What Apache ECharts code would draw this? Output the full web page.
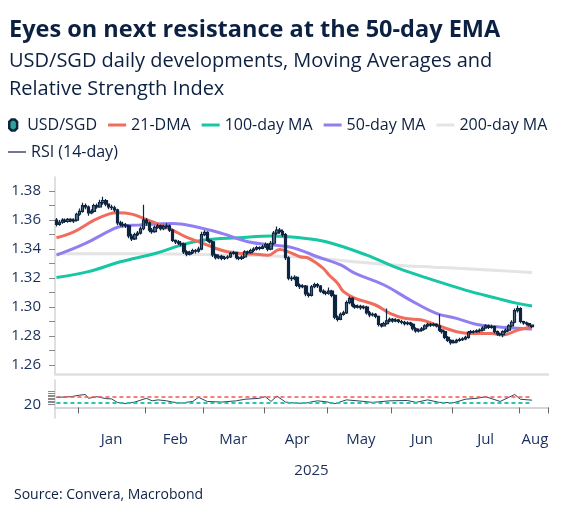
<!DOCTYPE html>
<html><head><meta charset="utf-8">
<script src="https://cdn.jsdelivr.net/npm/echarts@6/dist/echarts.min.js"></script>
<style>html,body{margin:0;padding:0;background:#fff}#c{width:566px;height:520px}</style>
</head><body><div id="c"></div>
<script>
// ---------- data ----------
const startDate = '2024-12-20';
const endDate = '2025-08-14';
const monthNames = ['Jan','Feb','Mar','Apr','May','Jun','Jul','Aug','Sep','Oct','Nov','Dec'];
const yearLabel = '2025';
const priceTicks = [1.26,1.27,1.28,1.29,1.30,1.31,1.32,1.33,1.34,1.35,1.36,1.37,1.38];
const priceLabels = [1.26,1.28,1.30,1.32,1.34,1.36,1.38];
const rsiTicks = [20,30,40,50,60,70,80,90,100];
const rsiLabels = [20];
const rsiUpper = 70;
const rsiLower = 30;

// USD/SGD daily candles: [open, close, low, high]
const usdsgd = [
[1.3600,1.3570,1.3555,1.3615],[1.3570,1.3585,1.3560,1.3600],[1.3585,1.3600,1.3575,1.3612],[1.3600,1.3590,1.3580,1.3610],
[1.3590,1.3605,1.3582,1.3615],[1.3605,1.3595,1.3585,1.3612],[1.3595,1.3600,1.3580,1.3612],[1.3600,1.3640,1.3590,1.3650],
[1.3640,1.3660,1.3630,1.3680],[1.3660,1.3700,1.3650,1.3720],[1.3700,1.3690,1.3675,1.3715],[1.3690,1.3650,1.3630,1.3700],
[1.3650,1.3660,1.3640,1.3675],[1.3660,1.3700,1.3650,1.3712],[1.3700,1.3690,1.3678,1.3715],[1.3690,1.3720,1.3685,1.3740],
[1.3720,1.3735,1.3705,1.3760],[1.3735,1.3710,1.3695,1.3745],[1.3710,1.3690,1.3675,1.3712],[1.3690,1.3685,1.3670,1.3705],
[1.3685,1.3670,1.3655,1.3698],[1.3670,1.3580,1.3565,1.3678],[1.3580,1.3570,1.3555,1.3595],[1.3570,1.3565,1.3550,1.3588],
[1.3565,1.3560,1.3545,1.3580],[1.3560,1.3490,1.3475,1.3568],[1.3490,1.3470,1.3455,1.3505],[1.3470,1.3500,1.3462,1.3512],
[1.3500,1.3510,1.3490,1.3525],[1.3510,1.3540,1.3500,1.3555],[1.3540,1.3600,1.3530,1.3705],[1.3600,1.3580,1.3560,1.3615],
[1.3580,1.3530,1.3515,1.3590],[1.3530,1.3520,1.3505,1.3545],[1.3520,1.3550,1.3512,1.3562],[1.3550,1.3560,1.3540,1.3575],
[1.3560,1.3540,1.3528,1.3570],[1.3540,1.3555,1.3530,1.3568],[1.3555,1.3560,1.3542,1.3578],[1.3560,1.3530,1.3518,1.3570],
[1.3530,1.3460,1.3448,1.3540],[1.3460,1.3450,1.3435,1.3465],[1.3450,1.3440,1.3428,1.3462],[1.3440,1.3435,1.3420,1.3455],
[1.3435,1.3380,1.3365,1.3445],[1.3380,1.3365,1.3350,1.3392],[1.3365,1.3375,1.3355,1.3388],[1.3375,1.3390,1.3365,1.3402],
[1.3390,1.3385,1.3370,1.3400],[1.3385,1.3400,1.3375,1.3415],[1.3400,1.3500,1.3392,1.3520],[1.3500,1.3515,1.3488,1.3530],
[1.3515,1.3460,1.3450,1.3522],[1.3460,1.3450,1.3438,1.3470],[1.3450,1.3360,1.3345,1.3458],[1.3360,1.3340,1.3328,1.3368],
[1.3340,1.3350,1.3330,1.3362],[1.3350,1.3335,1.3322,1.3360],[1.3335,1.3340,1.3325,1.3352],[1.3340,1.3345,1.3330,1.3358],
[1.3345,1.3370,1.3338,1.3382],[1.3370,1.3375,1.3360,1.3388],[1.3375,1.3340,1.3328,1.3382],[1.3340,1.3335,1.3322,1.3350],
[1.3335,1.3345,1.3325,1.3358],[1.3345,1.3380,1.3338,1.3392],[1.3380,1.3375,1.3362,1.3390],[1.3375,1.3390,1.3368,1.3402],
[1.3390,1.3400,1.3380,1.3412],[1.3400,1.3410,1.3390,1.3422],[1.3410,1.3405,1.3392,1.3420],[1.3405,1.3415,1.3398,1.3430],
[1.3415,1.3430,1.3408,1.3445],[1.3430,1.3400,1.3385,1.3440],[1.3400,1.3440,1.3392,1.3455],[1.3440,1.3510,1.3430,1.3525],
[1.3510,1.3530,1.3498,1.3555],[1.3530,1.3520,1.3505,1.3545],[1.3520,1.3500,1.3485,1.3535],[1.3500,1.3340,1.3325,1.3510],
[1.3340,1.3200,1.3185,1.3350],[1.3200,1.3195,1.3180,1.3215],[1.3195,1.3205,1.3185,1.3220],[1.3205,1.3150,1.3138,1.3212],
[1.3150,1.3140,1.3125,1.3162],[1.3140,1.3145,1.3130,1.3158],[1.3145,1.3090,1.3075,1.3152],[1.3090,1.3080,1.3065,1.3100],
[1.3080,1.3140,1.3072,1.3152],[1.3140,1.3155,1.3130,1.3168],[1.3155,1.3145,1.3132,1.3165],[1.3145,1.3110,1.3098,1.3152],
[1.3110,1.3100,1.3088,1.3122],[1.3100,1.3095,1.3082,1.3112],[1.3095,1.3110,1.3085,1.3135],[1.3110,1.3080,1.3068,1.3120],
[1.3080,1.2930,1.2915,1.3088],[1.2930,1.2915,1.2900,1.2942],[1.2915,1.2950,1.2908,1.2962],[1.2950,1.2960,1.2940,1.2975],
[1.2960,1.3030,1.2952,1.3045],[1.3030,1.3060,1.3020,1.3072],[1.3060,1.3010,1.2998,1.3068],[1.3010,1.3000,1.2988,1.3022],
[1.3000,1.3005,1.2990,1.3018],[1.3005,1.2995,1.2982,1.3015],[1.2995,1.3000,1.2985,1.3012],[1.3000,1.2960,1.2948,1.3008],
[1.2960,1.2945,1.2930,1.2972],[1.2945,1.2950,1.2935,1.2962],[1.2950,1.2935,1.2922,1.2958],[1.2935,1.2880,1.2865,1.2942],
[1.2880,1.2870,1.2858,1.2890],[1.2870,1.2885,1.2865,1.2898],[1.2885,1.2905,1.2878,1.2990],[1.2905,1.2915,1.2895,1.2928],
[1.2915,1.2905,1.2892,1.2925],[1.2905,1.2910,1.2895,1.2922],[1.2910,1.2900,1.2888,1.2918],[1.2900,1.2895,1.2882,1.2912],
[1.2895,1.2885,1.2872,1.2905],[1.2885,1.2890,1.2875,1.2902],[1.2890,1.2880,1.2868,1.2898],[1.2880,1.2850,1.2838,1.2890],
[1.2850,1.2835,1.2822,1.2860],[1.2835,1.2840,1.2825,1.2852],[1.2840,1.2850,1.2830,1.2862],[1.2850,1.2870,1.2842,1.2882],
[1.2870,1.2880,1.2860,1.2892],[1.2880,1.2875,1.2862,1.2890],[1.2875,1.2880,1.2865,1.2892],[1.2880,1.2870,1.2858,1.2888],
[1.2870,1.2840,1.2828,1.2950],[1.2840,1.2830,1.2815,1.2848],[1.2830,1.2790,1.2778,1.2838],[1.2790,1.2770,1.2758,1.2800],
[1.2770,1.2755,1.2740,1.2778],[1.2755,1.2760,1.2748,1.2775],[1.2760,1.2770,1.2750,1.2782],[1.2770,1.2775,1.2760,1.2788],
[1.2775,1.2780,1.2765,1.2792],[1.2780,1.2790,1.2770,1.2802],[1.2790,1.2825,1.2782,1.2835],[1.2825,1.2830,1.2815,1.2842],
[1.2830,1.2830,1.2818,1.2842],[1.2830,1.2835,1.2820,1.2846],[1.2835,1.2840,1.2825,1.2852],[1.2840,1.2855,1.2832,1.2868],
[1.2855,1.2870,1.2850,1.2882],[1.2870,1.2860,1.2848,1.2880],[1.2860,1.2865,1.2850,1.2878],[1.2865,1.2830,1.2818,1.2870],
[1.2830,1.2815,1.2802,1.2838],[1.2815,1.2810,1.2798,1.2825],[1.2810,1.2830,1.2792,1.2840],[1.2830,1.2840,1.2820,1.2852],
[1.2840,1.2870,1.2832,1.2882],[1.2870,1.2895,1.2860,1.2908],[1.2895,1.2975,1.2888,1.2990],[1.2975,1.2990,1.2962,1.3010],
[1.2990,1.2900,1.2888,1.2998],[1.2900,1.2890,1.2878,1.2905],[1.2890,1.2885,1.2872,1.2900],[1.2885,1.2875,1.2865,1.2892],
[1.2875,1.2865,1.2855,1.2880]
];

// moving averages, sampled as [trading-day index, value]
const dma21 = [[0,1.3478],[6,1.3519],[13,1.3600],[18,1.3641],[21,1.3650],[26,1.3641],[30,1.3611],[36,1.3565],[40,1.3531],[45,1.3480],[50,1.3443],[55,1.3404],[59,1.3381],[64,1.3369],[68,1.3365],[73,1.3358],[77,1.3397],[80,1.3381],[84,1.3347],[87,1.3336],[92,1.3267],[94,1.3221],[97,1.3163],[99,1.3106],[103,1.3060],[110,1.3014],[115,1.2956],[120,1.2922],[126,1.2910],[131,1.2876],[138,1.2830],[143,1.2818],[150,1.2818],[154,1.2807],[159,1.2841],[164,1.2864]];
const ma50 = [[0,1.3358],[10,1.3439],[20,1.3543],[23,1.3559],[28,1.3565],[40,1.3577],[48,1.3554],[57,1.3508],[66,1.3450],[75,1.3427],[80,1.3416],[84,1.3393],[90,1.3347],[98,1.3290],[103,1.3232],[113,1.3152],[122,1.3048],[131,1.2956],[138,1.2922],[145,1.2880],[152,1.2864],[159,1.2853],[164,1.2848]];
const ma100 = [[0,1.3204],[11,1.3244],[22,1.3312],[34,1.3369],[43,1.3427],[51,1.3462],[63,1.3478],[74,1.3490],[84,1.3478],[93,1.3450],[107,1.3358],[118,1.3266],[130,1.3186],[141,1.3117],[152,1.3060],[159,1.3025],[164,1.3007]];
const ma200 = [[0,1.3368],[20,1.3368],[40,1.3365],[60,1.3358],[80,1.3348],[90,1.3338],[100,1.3318],[115,1.3292],[130,1.3275],[140,1.3266],[152,1.3252],[164,1.3239]];
const rsi14 = [[0,64],[5,68],[8,78],[10,82],[11,58],[14,68],[17,56],[19,54],[21,32],[24,24],[27,34],[31,58],[33,42],[35,48],[38,42],[40,34],[43,28],[47,38],[49,64],[52,38],[57,34],[62,42],[65,52],[70,58],[72,68],[74,38],[76,72],[79,34],[83,26],[86,28],[90,42],[93,36],[96,24],[100,48],[105,40],[109,32],[115,42],[121,44],[124,32],[128,48],[132,32],[137,30],[141,52],[145,58],[148,68],[153,38],[156,64],[158,82],[160,52],[164,46]];

// ---------- axis categories: trading days ----------
function weekdays(a, b) {
  const out = [];
  const d = new Date(a + 'T00:00:00Z');
  const e = new Date(b + 'T00:00:00Z');
  while (d <= e) {
    const w = d.getUTCDay();
    if (w !== 0 && w !== 6) out.push(d.toISOString().slice(0, 10));
    d.setUTCDate(d.getUTCDate() + 1);
  }
  return out;
}
const dates = weekdays(startDate, endDate);
const lastIdx = usdsgd.length - 1;

const monthStart = new Set();
const monthIdx = {};
dates.forEach((d, i) => {
  const m = d.slice(0, 7);
  (monthIdx[m] = monthIdx[m] || []).push(i);
  if (i > 0 && dates[i - 1].slice(0, 7) !== m) monthStart.add(i);
});
const labelAt = new Set();
Object.keys(monthIdx).forEach(m => {
  const arr = monthIdx[m];
  if (m >= '2025-01') labelAt.add(arr[Math.floor(arr.length / 2)]);
});

const FONT = 'Open Sans';
const NAVY = '#0c2142';
const LABEL = '#1a2f5c';
const C21 = '#f06c5c', C100 = '#16c6a4', C50 = '#917ff2', C200 = '#e4e4e4', CRSI = '#34425a';
const BAR = 'path://M0,0 L18,0 L18,3 L0,3 Z';
const THIN = 'path://M0,0 L18,0 L18,1.4 L0,1.4 Z';
const legendText = {fontFamily: FONT, fontSize: 16, color: NAVY};

const chart = echarts.init(document.getElementById('c'), null, {renderer: 'canvas'});
chart.setOption({
  backgroundColor: '#fff',
  animation: false,
  textStyle: {fontFamily: FONT},
  title: [
    {text: 'Eyes on next resistance at the 50-day EMA', left: 9, top: 18, padding: 0,
     textStyle: {fontFamily: FONT, fontSize: 23.5, fontWeight: 'bold', color: NAVY}},
    {text: 'USD/SGD daily developments, Moving Averages and\nRelative Strength Index', left: 9, top: 47, padding: 0,
     textStyle: {fontFamily: FONT, fontSize: 20, fontWeight: 'normal', lineHeight: 28, color: NAVY}}
  ],
  legend: [
    {left: 8, top: 117, padding: 0, itemWidth: 18, itemHeight: 11, itemGap: 11, textStyle: legendText,
     data: [
      {name: 'USD/SGD', icon: 'path://M3,0 L7,0 L10,3 L10,11 L7,14 L3,14 L0,11 L0,3 Z',
       itemStyle: {color: '#2fa39a', borderColor: '#0e2542', borderWidth: 2.5}},
      {name: '21-DMA', icon: BAR}, {name: '100-day MA', icon: BAR},
      {name: '50-day MA', icon: BAR}, {name: '200-day MA', icon: BAR}
     ]},
    {left: 8, top: 144, padding: 0, itemWidth: 18, itemHeight: 11, textStyle: legendText,
     data: [{name: 'RSI (14-day)', icon: THIN}]}
  ],
  graphic: [
    {type: 'text', left: 14, top: 488, style: {text: 'Source: Convera, Macrobond', fontFamily: FONT, fontSize: 14, fill: NAVY}}
  ],
  grid: [
    {left: 55, right: 18, top: 177, height: 197},
    {left: 55, right: 18, top: 380, height: 38}
  ],
  xAxis: [
    {type: 'category', gridIndex: 0, data: dates, boundaryGap: true,
     axisLine: {show: true, lineStyle: {color: '#e0e0e0', width: 2.5}},
     axisTick: {show: false}, axisLabel: {show: false}, splitLine: {show: false}},
    {type: 'category', gridIndex: 1, data: dates, boundaryGap: true,
     axisLine: {show: true, lineStyle: {color: '#c9c9c9', width: 1.5}},
     axisTick: {show: true, length: 6, lineStyle: {color: '#666'}, interval: (i) => monthStart.has(i)},
     axisLabel: {show: true, interval: (i) => labelAt.has(i), margin: 14, fontSize: 15, color: LABEL,
       fontFamily: FONT, formatter: (v) => monthNames[parseInt(v.slice(5, 7), 10) - 1]},
     name: yearLabel, nameLocation: 'middle', nameGap: 45,
     nameTextStyle: {fontSize: 15, color: LABEL, fontFamily: FONT, padding: [0, 0, 0, 20]}}
  ],
  yAxis: [
    {type: 'value', gridIndex: 0, min: 1.2538, max: 1.3897, scale: true,
     axisLine: {show: true, lineStyle: {color: '#d4d4d4', width: 1.5}},
     axisTick: {show: true, length: 6, customValues: priceTicks, lineStyle: {color: '#8a8a8a'}},
     axisLabel: {customValues: priceLabels, formatter: (v) => v.toFixed(2), fontSize: 15, color: LABEL, margin: 14, fontFamily: FONT},
     splitLine: {show: false}},
    {type: 'value', gridIndex: 1, min: -67, max: 174,
     axisLine: {show: true, lineStyle: {color: '#d4d4d4', width: 1.5}},
     axisTick: {show: true, length: 7, customValues: rsiTicks, lineStyle: {color: '#8a8a8a'}},
     axisLabel: {customValues: rsiLabels, fontSize: 15, color: LABEL, margin: 14, fontFamily: FONT},
     splitLine: {show: false}}
  ],
  series: [
    {name: '200-day MA', type: 'line', xAxisIndex: 0, yAxisIndex: 0, data: ma200, smooth: 0.4,
     symbol: 'none', lineStyle: {color: C200, width: 3}, itemStyle: {color: C200}, z: 1},
    {name: '100-day MA', type: 'line', xAxisIndex: 0, yAxisIndex: 0, data: ma100, smooth: 0.4,
     symbol: 'none', lineStyle: {color: C100, width: 3}, itemStyle: {color: C100}, z: 2},
    {name: '50-day MA', type: 'line', xAxisIndex: 0, yAxisIndex: 0, data: ma50, smooth: 0.4,
     symbol: 'none', lineStyle: {color: C50, width: 3}, itemStyle: {color: C50}, z: 2},
    {name: '21-DMA', type: 'line', xAxisIndex: 0, yAxisIndex: 0, data: dma21, smooth: 0.4,
     symbol: 'none', lineStyle: {color: C21, width: 3}, itemStyle: {color: C21}, z: 2},
    {name: 'USD/SGD', type: 'candlestick', xAxisIndex: 0, yAxisIndex: 0, data: usdsgd, barWidth: 3,
     itemStyle: {color: '#51707f', color0: '#0e2542', borderColor: '#0e2542', borderColor0: '#0e2542', borderWidth: 1.2}, z: 3},
    {name: 'RSI (14-day)', type: 'line', xAxisIndex: 1, yAxisIndex: 1, data: rsi14,
     symbol: 'none', lineStyle: {color: CRSI, width: 1}, itemStyle: {color: CRSI}, z: 3,
     markLine: {silent: true, symbol: 'none', label: {show: false},
       data: [
         [{coord: [0, rsiUpper], lineStyle: {color: '#f0584a', type: [4, 3], width: 1.5}}, {coord: [lastIdx, rsiUpper]}],
         [{coord: [0, rsiLower], lineStyle: {color: '#2cc5b0', type: [4, 3], width: 2}}, {coord: [lastIdx, rsiLower]}]
       ]}}
  ]
});
</script>
</body></html>
